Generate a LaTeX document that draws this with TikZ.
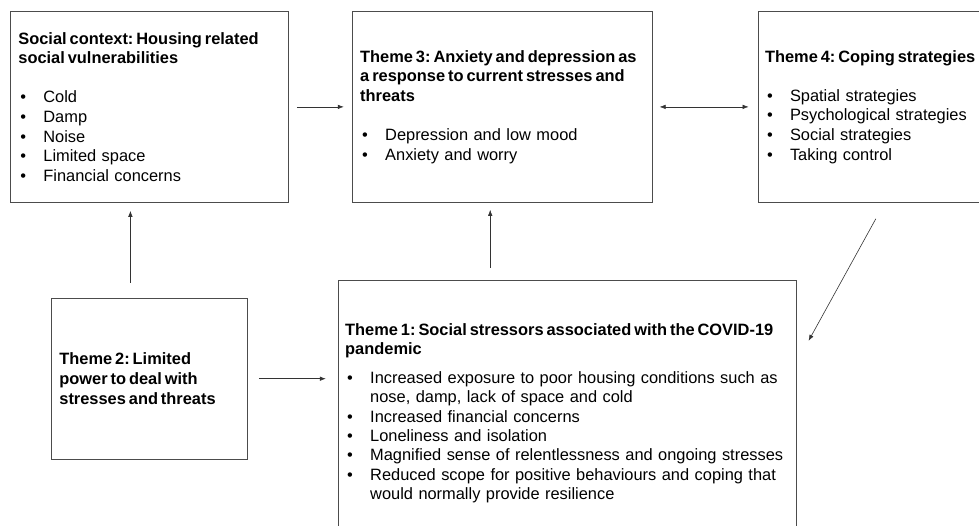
\documentclass[tikz,border=0pt]{standalone}
\usepackage{fontspec}
\setmainfont{Liberation Sans}
\usetikzlibrary{shapes,arrows,arrows.meta}

\tikzstyle{theme}=[draw=black!70, line width=0.8pt, anchor=north west,
    align=left, inner xsep=8pt, font=\fontsize{16.4}{19.6}\selectfont\frenchspacing]
\tikzstyle{link}=[draw=black!80, line width=0.6pt, >={Latex[length=6pt,width=4.5pt]}]

\newcommand{\itm}{\makebox[25pt][l]{\hspace{2pt}\textbullet}}
\newcommand{\ttl}[1]{\mbox{\bfseries\spaceskip=0.18em#1}}

\begin{document}
\begin{tikzpicture}[x=1pt,y=1pt]
    \useasboundingbox (0,0) rectangle (979,-526);

    \node (ctx)[theme, text width=262pt, minimum height=191pt] at (10,-11)
        {\ttl{Social context: Housing related}\\
         \ttl{social vulnerabilities}\\[19.6pt]
         \itm Cold\\ \itm Damp\\ \itm Noise\\ \itm Limited space\\
         \itm Financial concerns};
    \path (ctx.north east)+(63,0) node (thr)[theme, text width=284pt, minimum height=191pt]
        {\ttl{Theme 3: Anxiety and depression as}\\
         \ttl{a response to current stresses and}\\
         \ttl{threats}\\[19.6pt]
         \itm Depression and low mood\\ \itm Anxiety and worry};
    \path (thr.north east)+(105,0) node (cop)[theme, text width=240pt, inner xsep=7pt, minimum height=191pt]
        {\ttl{Theme 4: Coping strategies}\\[19.6pt]
         \itm Spatial strategies\\ \itm Psychological strategies\\
         \itm Social strategies\\ \itm Taking control};

    \path (ctx.south west)+(41,-95) node (pow)[theme, text width=180pt, minimum height=161pt]
        {\ttl{Theme 2: Limited}\\
         \ttl{power to deal with}\\
         \ttl{stresses and threats}};
    \path (pow.north east)+(90,18) node (str)[theme, text width=444pt, inner xsep=7pt,
        inner ysep=43pt, font=\fontsize{16.4}{19.3}\selectfont\frenchspacing]
        {\ttl{Theme 1: Social stressors associated with the COVID-19}\\
         \ttl{pandemic}\\[10pt]
         \itm Increased exposure to poor housing conditions such as\\
         \hspace*{25pt}nose, damp, lack of space and cold\\
         \itm Increased financial concerns\\
         \itm Loneliness and isolation\\
         \itm Magnified sense of relentlessness and ongoing stresses\\
         \itm Reduced scope for positive behaviours and coping that\\
         \hspace*{25pt}would normally provide resilience};

    %%% arrows
    \coordinate (up) at ([xshift=-12pt]thr.south);
    \path (ctx.south east)+(587,-16) coordinate (cs);
    \path (str.north east)+(12,-61) coordinate (ce);

    \path [link, ->, shorten <=8pt, shorten >=8pt] (ctx.east) -- (thr.west);
    \path [link, <->, shorten <=7pt, shorten >=9pt] (thr.east) -- (cop.west);
    \path [link, ->, shorten <=15pt, shorten >=8pt] ([xshift=-19pt]pow.north) -- ([xshift=-19pt]ctx.south);
    \path [link, ->, shorten <=12pt, shorten >=7pt] (up |- str.north) -- (up);
    \path [link, ->, shorten <=11pt, shorten >=12pt] (pow.east) -- (pow.east -| str.west);
    \path [link, ->] (cs) -- (ce);

\end{tikzpicture}
\end{document}
